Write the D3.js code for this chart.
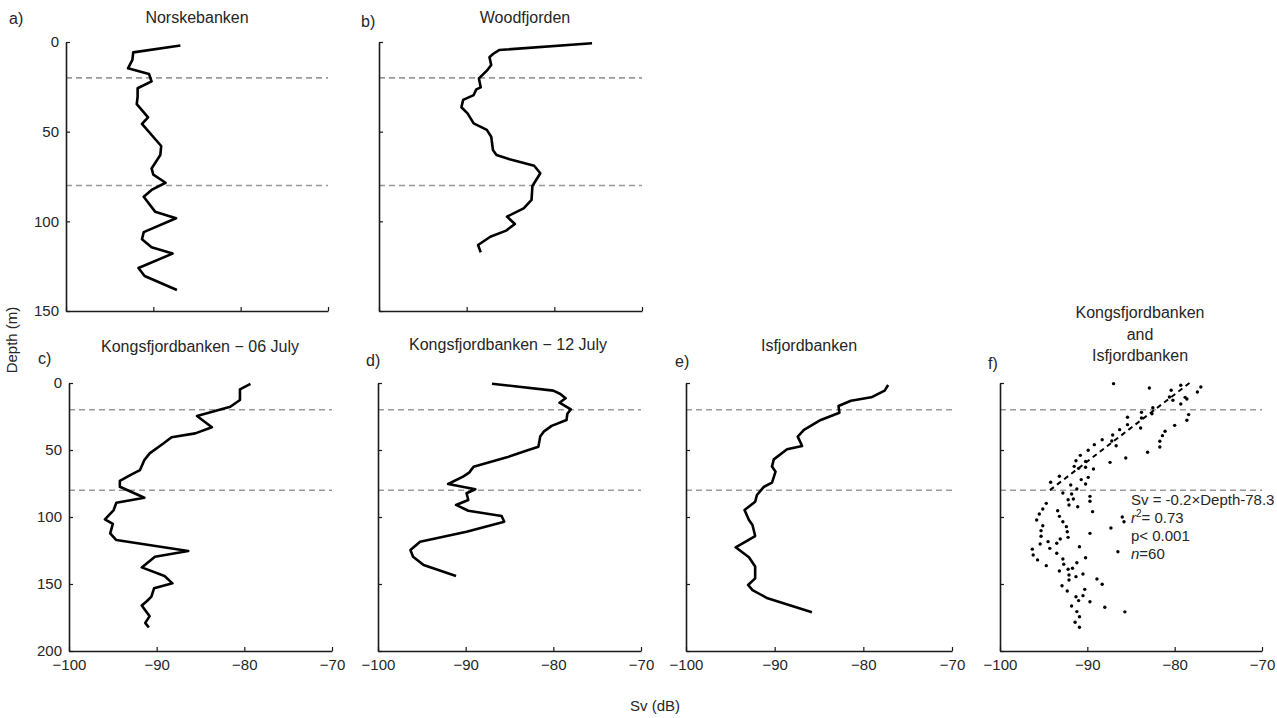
<!DOCTYPE html>
<html>
<head>
<meta charset="utf-8">
<script src="https://cdn.jsdelivr.net/npm/d3@7"></script>
<style>
  body { margin: 0; background: #fff; }
  text { font-family: "Liberation Sans", Arial, sans-serif; fill: #262626; }
</style>
</head>
<body>
<div id="chart"></div>
<script>
// Sv (dB) and depth (m) read from each profile
var norskeSv = [-86.9,-92.3,-92.4,-92.9,-90.5,-90.2,-91.8,-91.8,-91.9,-90.6,-91.3,-89.1,-89.2,-90.2,-90.0,-88.6,-90.2,-91.1,-89.8,-87.4,-91.1,-91.3,-90.2,-87.8,-91.7,-91.0,-87.3];
var norskeDepth = [2,5.8,10,14.7,17.8,22,25.8,30.5,34.6,42,45.7,58,63,70.5,74,78.5,82.5,86.3,94.6,98.3,106,110,114.5,118,126,130.5,138.3];

var woodSv = [-75.7,-86.3,-87.0,-87.4,-87.2,-87.7,-88.6,-88.4,-88.9,-89.2,-90.4,-90.6,-89.9,-89.2,-87.7,-87.2,-87.0,-86.6,-85.1,-82.3,-81.6,-82.5,-82.6,-83.5,-85.4,-84.5,-85.5,-87.3,-88.7,-88.4];
var woodDepth = [0.7,4.5,6.7,8.5,12.8,16,20.3,25.3,26.4,29.6,32.3,36.4,39.8,45.4,49,52.8,60.2,63,65.4,69,73.2,80.3,88,92.8,97.4,101.5,105.2,108.6,113.2,117.3];

var kongs06Sv = [-79.3,-80.5,-80.5,-81.6,-85.4,-83.7,-85.6,-88.3,-89.2,-90.8,-91.4,-91.9,-92.8,-94.2,-94.2,-91.4,-94.6,-94.9,-95.9,-95.0,-95.3,-94.6,-86.4,-90.2,-91.7,-89.1,-88.2,-90.3,-90.6,-91.1,-91.7,-90.8,-91.3,-90.9];
var kongs06Depth = [0.7,4.7,12.7,17.7,24.6,33,37.6,40.5,45,52.5,57.5,65,68,73,77.4,85.6,89.3,94.8,101.7,105.2,112.2,117.2,125.4,129.6,137.6,144,149.5,153.2,159.4,162.7,166,174,179,182.5];

var kongs12Sv = [-87.0,-80.0,-79.2,-78.6,-79.3,-78.0,-78.4,-78.5,-80.2,-81.1,-81.5,-81.7,-83.1,-85.3,-89.1,-89.6,-90.3,-92.0,-88.9,-89.9,-89.7,-91.1,-89.7,-85.9,-85.6,-89.9,-95.2,-96.3,-96.0,-94.8,-91.1];
var kongs12Depth = [0.5,5.7,8.2,11.4,14.7,19.6,23,27.6,32,36.3,40,47.5,50.5,55.5,62.5,66.9,69.9,75.4,79.3,82.3,87.3,91,95.3,99.2,103.5,111,118.4,124.6,129.6,135.8,144];

var isfjSv = [-77.2,-77.6,-79.1,-81.4,-82.8,-82.7,-84.8,-86.7,-87.4,-86.9,-88.6,-90.1,-90.3,-89.9,-90.3,-91.2,-92.0,-92.2,-93.4,-92.9,-92.5,-92.2,-94.4,-92.9,-92.2,-92.2,-93.0,-92.5,-90.8,-85.8];
var isfjDepth = [1.5,5.7,10.7,13.2,17.2,22.2,27.6,35,40,47,49.5,57,62.4,66.2,74.4,77.4,83.6,88.6,94.8,102.2,106,114.2,122.6,130,137,145.8,150.7,154.5,160.7,171.1];

// pooled samples for panel f
var poolSv = [-87.0,-82.9,-79.3,-77.0,-77.4,-80.4,-80.6,-80.2,-78.8,-78.6,-79.3,-78.4,-78.6,-80.0,-81.1,-81.4,-81.7,-81.7,-83.1,-85.6,
  -82.6,-83.8,-83.8,-85.4,-85.4,-86.3,-83.9,-86.7,-87.1,-87.2,-88.3,-89.2,-89.9,-90.8,-91.3,-90.2,-87.4,-91.5,-91.0,-89.3,
  -90.2,-93.2,-90.7,-89.9,-90.2,-94.2,-91.9,-91.2,-92.8,-91.8,-91.6,-92.2,-92.1,-91.1,-89.7,-89.7,-89.4,-94.7,-95.1,-95.5,
  -95.8,-95.1,-95.3,-95.3,-95.4,-94.5,-93.4,-93.2,-92.8,-92.4,-92.3,-92.2,-93.1,-93.5,-89.7,-87.3,-86.0,-85.8,-96.3,-96.2,
  -95.7,-94.7,-94.3,-93.5,-92.8,-92.7,-93.2,-92.2,-91.7,-92.1,-91.2,-90.2,-90.9,-90.5,-91.3,-92.1,-92.9,-92.3,-90.3,-90.5,
  -91.3,-91.0,-89.7,-91.8,-91.2,-90.9,-91.4,-90.9,-88.9,-88.3,-88.0,-86.5,-85.7,-82.5];
var poolDepth = [0.5,3.7,1.7,3,6.7,5.4,10.4,12.9,10.7,11.9,15.7,23.6,27.8,31.6,36,39.3,43.5,47.8,51.7,56,
  22.9,21.9,26.1,25.6,31.1,34.8,33.6,46.8,38.8,43.3,42.3,46,50.2,54,58,58.5,59.2,62.2,63.7,64.2,
  62.9,69.6,72.1,70.4,75.4,74.1,76.1,79.1,82.1,82.8,86.6,87.1,91,92.3,84.6,88.3,96,89.8,94,97.8,
  102.2,106.5,110.2,114.4,120.1,118.4,95.3,99.5,103.5,107.2,111,115.2,116.4,119.6,112.2,108.2,100,103.5,124,128.4,
  132,136.3,123.4,127,131.3,135.3,140.3,139,138.3,143.3,134.1,130.4,122.2,142.5,144.5,147,151.3,155.2,154,158.7,
  159.5,162.4,163.2,166.4,170.6,174.4,178.6,182.3,146.3,150.2,167.4,125.9,170.8,18.5];

// regression Sv = slope*Depth + intercept, fitted over 0-80 m
var regSlope = -0.2;
var regIntercept = -78.3;
var regDepth = [0, 80];

var layerDepths = [20, 80];
var svTicks = [-100, -90, -80, -70];

function init() {
  var w = 1277;
  var h = 718;

  var svg = d3.select("#chart")
    .append("svg")
    .attr("width", w)
    .attr("height", h);

  svg.append("rect").attr("width", w).attr("height", h).attr("fill", "#fff");

  // panel layout
  var panels = [
    {tag: "a)", title: ["Norskebanken"], x0: 66, x1: 328, y0: 42, y1: 311, maxDepth: 150, yTicks: [0, 50, 100, 150],
     showY: true, showX: false, sv: norskeSv, depth: norskeDepth, tagX: 9, tagY: 24, titleX: 197, titleY: 23},
    {tag: "b)", title: ["Woodfjorden"], x0: 379, x1: 642, y0: 42, y1: 311, maxDepth: 150, yTicks: [0, 50, 100, 150],
     showY: false, showX: false, sv: woodSv, depth: woodDepth, tagX: 361, tagY: 27, titleX: 525, titleY: 23},
    {tag: "c)", title: ["Kongsfjordbanken \u2212 06 July"], x0: 69, x1: 332, y0: 383, y1: 651, maxDepth: 200, yTicks: [0, 50, 100, 150, 200],
     showY: true, showX: true, sv: kongs06Sv, depth: kongs06Depth, tagX: 38, tagY: 364, titleX: 200, titleY: 352},
    {tag: "d)", title: ["Kongsfjordbanken \u2212 12 July"], x0: 378, x1: 641, y0: 383, y1: 651, maxDepth: 200, yTicks: [0, 50, 100, 150, 200],
     showY: false, showX: true, sv: kongs12Sv, depth: kongs12Depth, tagX: 366, tagY: 366, titleX: 508, titleY: 350},
    {tag: "e)", title: ["Isfjordbanken"], x0: 686, x1: 952, y0: 383, y1: 651, maxDepth: 200, yTicks: [0, 50, 100, 150, 200],
     showY: false, showX: true, sv: isfjSv, depth: isfjDepth, tagX: 675, tagY: 367, titleX: 809, titleY: 351},
    {tag: "f)", title: ["Kongsfjordbanken", "and", "Isfjordbanken"], x0: 1000, x1: 1262, y0: 383, y1: 651, maxDepth: 200, yTicks: [0, 50, 100, 150, 200],
     showY: false, showX: true, scatter: true, tagX: 988, tagY: 369, titleX: 1140, titleY: 318}
  ];

  panels.forEach(function (p) {
    var xScale = d3.scaleLinear().domain([-100, -70]).range([p.x0, p.x1]);
    var yScale = d3.scaleLinear().domain([0, p.maxDepth]).range([p.y0, p.y1]);

    // dashed layer boundaries
    svg.selectAll(null)
      .data(layerDepths)
      .enter()
      .append("line")
      .attr("x1", p.x0)
      .attr("x2", p.x1)
      .attr("y1", function (d) { return yScale(d); })
      .attr("y2", function (d) { return yScale(d); })
      .attr("stroke", "#999")
      .attr("stroke-width", 1.6)
      .attr("stroke-dasharray", "6,4");

    var yAxis = d3.axisLeft(yScale)
      .tickValues(p.yTicks)
      .tickSizeInner(-4)
      .tickSizeOuter(0)
      .tickPadding(7);
    if (!p.showY) yAxis.tickFormat("");

    var xAxis = d3.axisBottom(xScale)
      .tickValues(svTicks)
      .tickSizeInner(-4)
      .tickSizeOuter(0)
      .tickPadding(8);
    if (!p.showX) xAxis.tickFormat("");

    var gy = svg.append("g")
      .attr("transform", "translate(" + p.x0 + ",0)")
      .call(yAxis);
    var gx = svg.append("g")
      .attr("transform", "translate(0," + p.y1 + ")")
      .call(xAxis);

    [gx, gy].forEach(function (g) {
      g.select(".domain").attr("stroke", "#1a1a1a").attr("stroke-width", 1.6);
      g.selectAll(".tick line").attr("stroke", "#1a1a1a").attr("stroke-width", 1.2);
      g.selectAll(".tick text")
        .attr("fill", "#262626")
        .style("font-family", "Liberation Sans, Arial, sans-serif")
        .style("font-size", "15px");
    });

    if (p.scatter) {
      svg.selectAll(null)
        .data(d3.range(poolSv.length))
        .enter()
        .append("circle")
        .attr("cx", function (i) { return xScale(poolSv[i]); })
        .attr("cy", function (i) { return yScale(poolDepth[i]); })
        .attr("r", 1.7)
        .attr("fill", "#000");

      svg.append("line")
        .attr("x1", xScale(regSlope * regDepth[0] + regIntercept))
        .attr("y1", yScale(regDepth[0]))
        .attr("x2", xScale(regSlope * regDepth[1] + regIntercept))
        .attr("y2", yScale(regDepth[1]))
        .attr("stroke", "#000")
        .attr("stroke-width", 2)
        .attr("stroke-dasharray", "5,4");

      var stats = svg.append("text")
        .attr("x", xScale(-85.0))
        .attr("y", 505)
        .style("font-size", "15px")
        .attr("fill", "#000");
      stats.append("tspan").text("Sv = -0.2\u00d7Depth-78.3");
      var r2 = svg.append("text").attr("x", xScale(-85.0)).attr("y", 523)
        .style("font-size", "15px").attr("fill", "#000");
      r2.append("tspan").style("font-style", "italic").text("r");
      r2.append("tspan").attr("dy", -6).style("font-size", "10px").text("2");
      r2.append("tspan").attr("dy", 6).text("= 0.73");
      svg.append("text").attr("x", xScale(-85.0)).attr("y", 541)
        .style("font-size", "15px").attr("fill", "#000").text("p< 0.001");
      var nt = svg.append("text").attr("x", xScale(-85.0)).attr("y", 559)
        .style("font-size", "15px").attr("fill", "#000");
      nt.append("tspan").style("font-style", "italic").text("n");
      nt.append("tspan").text("=60");
    } else {
      var line = d3.line()
        .x(function (i) { return xScale(p.sv[i]); })
        .y(function (i) { return yScale(p.depth[i]); });

      svg.append("path")
        .datum(d3.range(p.sv.length))
        .attr("d", line)
        .attr("fill", "none")
        .attr("stroke", "#000")
        .attr("stroke-width", 2.6)
        .attr("stroke-linejoin", "round");
    }

    // panel tag and title
    svg.append("text")
      .attr("x", p.tagX)
      .attr("y", p.tagY)
      .style("font-size", "16px")
      .attr("fill", "#000")
      .text(p.tag);

    p.title.forEach(function (t, k) {
      svg.append("text")
        .attr("x", p.titleX)
        .attr("y", p.titleY + k * 21.5)
        .attr("text-anchor", "middle")
        .style("font-size", "16px")
        .text(t);
    });
  });

  // shared axis titles
  svg.append("text")
    .attr("transform", "translate(17,340) rotate(-90)")
    .attr("text-anchor", "middle")
    .style("font-size", "15px")
    .text("Depth (m)");

  svg.append("text")
    .attr("x", 655)
    .attr("y", 711)
    .attr("text-anchor", "middle")
    .style("font-size", "15px")
    .text("Sv (dB)");
}

window.onload = init;
</script>
</body>
</html>
